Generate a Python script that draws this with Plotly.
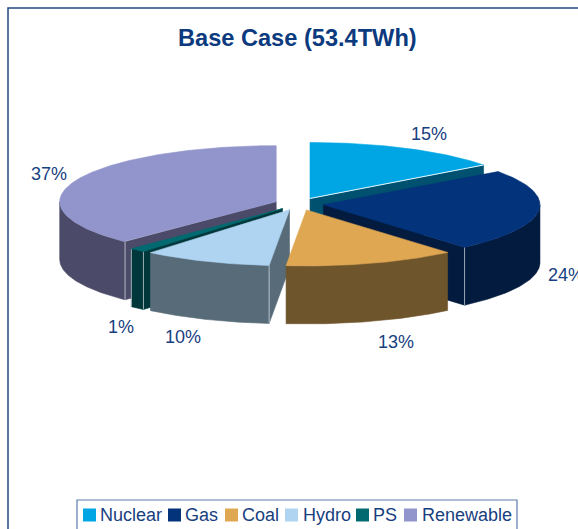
import math
import plotly.graph_objects as go

# ---- data ----
categories = ["Nuclear", "Gas", "Coal", "Hydro", "PS", "Renewable"]
shares = [14.8, 23.9, 12.8, 9.6, 1.2, 37.7]
percent_labels = ["15%", "24%", "13%", "10%", "1%", "37%"]
title_text = "Base Case (53.4TWh)"

# ---- styles ----
top_colors = ["#00A6E4", "#03337A", "#E0A752", "#AED4F1", "#006A70", "#9295CB"]
wall_colors = ["#00506F", "#021B3E", "#6E552C", "#586B79", "#00373A", "#4B4B69"]
text_color = "#17407F"
frame_color = "#1F4A80"

# ---- geometry (pixels of the page) ----
W, H = 578, 529
CX, CY = 299, 204
RX, RY = 216.5, 56
EX, EY = 24.6, 6.2
DEPTH = 58
label_pos = [(429, 134), (566, 275), (396, 342), (183, 337), (121, 327), (49, 174)]
draw_order = [0, 1, 5, 4, 3, 2]


def pt(a, ox, oy, dz=0.0):
    r = math.radians(a)
    return ox + RX * math.sin(r), oy - RY * math.cos(r) + dz


def arc(a0, a1, ox, oy, dz=0.0):
    n = max(2, int(abs(a1 - a0)) * 2)
    return [pt(a0 + (a1 - a0) * i / n, ox, oy, dz) for i in range(n + 1)]


def poly(points, color, name):
    return go.Scatter(
        x=[p[0] for p in points], y=[p[1] for p in points], mode="lines",
        fill="toself", fillcolor=color, line=dict(color=color, width=0.6),
        hoverinfo="skip", showlegend=False, name=name,
    )


def edge(points, color="rgba(225,232,240,0.85)", width=1):
    return go.Scatter(
        x=[p[0] for p in points], y=[p[1] for p in points], mode="lines",
        line=dict(color=color, width=width), hoverinfo="skip", showlegend=False,
    )


angles = []
acc = 0.0
for s in shares:
    angles.append((acc, acc + s * 3.6))
    acc += s * 3.6

fig = go.Figure()
for i in draw_order:
    a0, a1 = angles[i]
    mid = math.radians((a0 + a1) / 2)
    ox, oy = CX + EX * math.sin(mid), CY - EY * math.cos(mid)
    name = categories[i]
    # radial walls which face the viewer
    for a, visible in ((a0, math.sin(math.radians(a0)) < -1e-6), (a1, math.sin(math.radians(a1)) > 1e-6)):
        if visible:
            c = pt(a, ox, oy)
            fig.add_trace(poly([(ox, oy), c, (c[0], c[1] + DEPTH), (ox, oy + DEPTH), (ox, oy)], wall_colors[i], name))
    # outer wall, front half only
    f0, f1 = max(a0, 90), min(a1, 270)
    if f1 > f0:
        t = arc(f0, f1, ox, oy)
        b = arc(f0, f1, ox, oy, DEPTH)
        fig.add_trace(poly(t + b[::-1] + t[:1], wall_colors[i], name))
    # lit vertical corner edges
    for a in (a0, a1):
        if 90 < a < 270 and name in ("Gas", "Hydro", "PS", "Renewable") and not (name == "Hydro" and a == a1):
            c = pt(a, ox, oy)
            fig.add_trace(edge([c, (c[0], c[1] + DEPTH)], width=0.8))
    # top face
    fig.add_trace(poly([(ox, oy)] + arc(a0, a1, ox, oy) + [(ox, oy)], top_colors[i], name))
    if name == "Nuclear":
        fig.add_trace(edge([(ox, oy), pt(a1, ox, oy)], "rgba(255,255,255,0.9)", 1))

# legend, drawn to the original's compact layout
legend_swatch_x = [89.5, 174.5, 231.5, 291.5, 362.5, 410.5]
legend_text_x = [100.5, 185.5, 242.5, 303.5, 374, 422.5]
legend_y = 515
fig.add_trace(go.Scatter(
    x=legend_swatch_x, y=[legend_y] * 6, mode="markers",
    marker=dict(symbol="square", size=13, color=top_colors),
    hoverinfo="skip", showlegend=False,
))

ann = [dict(x=297, y=38, text=f"<b>{title_text}</b>", showarrow=False,
            font=dict(family="Liberation Sans", size=23.6, color="#0B3A7E"),
            xanchor="center", yanchor="middle")]
for (lx, ly), s in zip(label_pos, percent_labels):
    ann.append(dict(x=lx, y=ly, text=s, showarrow=False,
                    font=dict(family="Liberation Sans", size=18, color=text_color),
                    xanchor="center", yanchor="middle"))
for lx, c in zip(legend_text_x, categories):
    ann.append(dict(x=lx, y=legend_y, text=c, showarrow=False,
                    font=dict(family="Liberation Sans", size=18, color=text_color),
                    xanchor="left", yanchor="middle", xshift=-3))

shapes = [
    dict(type="path", path=f"M 8 {H} L 8 8 L {W} 8", line=dict(color=frame_color, width=1.5)),
    dict(type="rect", x0=77, y0=500, x1=517, y1=H + 10, line=dict(color="#5B7CAB", width=1.2), fillcolor="rgba(255,255,255,0)"),
]

fig.update_layout(
    width=W, height=H, margin=dict(l=0, r=0, t=0, b=0),
    paper_bgcolor="white", plot_bgcolor="white",
    xaxis=dict(range=[0, W], visible=False, fixedrange=True),
    yaxis=dict(range=[H, 0], visible=False, fixedrange=True),
    annotations=ann, shapes=shapes, showlegend=False,
)
fig.write_html("out.html", config=dict(displayModeBar=False),
               post_script="document.body.style.margin='0';document.body.style.overflow='hidden';")
